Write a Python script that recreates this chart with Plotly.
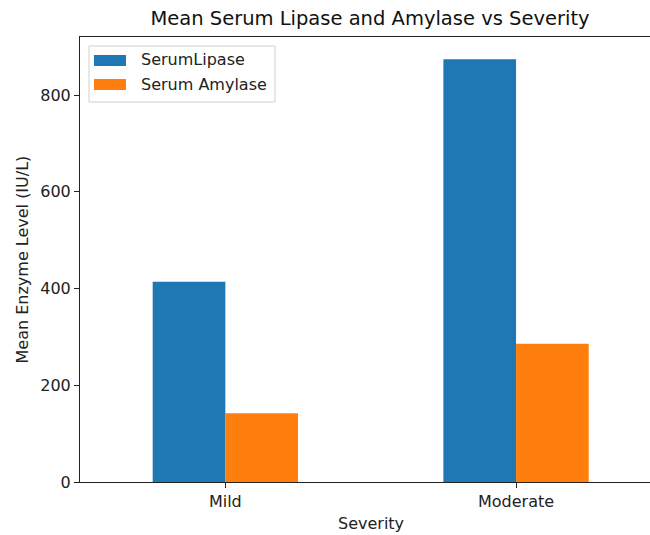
import plotly.graph_objects as go

categories = ["Mild", "Moderate"]
serum_lipase = [414, 874]
serum_amylase = [142, 286]
series_names = ["SerumLipase", "Serum Amylase"]
colors = ["#1f77b4", "#ff7f0e"]
y_ticks = [0, 200, 400, 600, 800]

W, H = 650, 535
L, R, T, B = 80, 0, 37, 53
PW, PH = W - L - R, H - T - B

def px_x(px):
    return (px - L) / PW

def px_y(py):
    return (H - B - py) / PH

FONT = "DejaVu Sans"
FS = 16

fig = go.Figure()
fig.add_trace(go.Bar(x=categories, y=serum_lipase, name=series_names[0],
                     marker=dict(color=colors[0], line=dict(width=0))))
fig.add_trace(go.Bar(x=categories, y=serum_amylase, name=series_names[1],
                     marker=dict(color=colors[1], line=dict(width=0))))

shapes = [
    dict(type="rect", xref="paper", yref="paper",
         x0=px_x(89), x1=px_x(275), y0=px_y(102), y1=px_y(46),
         line=dict(color="#d0d0d0", width=1), fillcolor="rgba(255,255,255,0.8)"),
    dict(type="rect", xref="paper", yref="paper",
         x0=px_x(94), x1=px_x(126), y0=px_y(66), y1=px_y(55),
         line=dict(width=0), fillcolor=colors[0]),
    dict(type="rect", xref="paper", yref="paper",
         x0=px_x(94), x1=px_x(126), y0=px_y(90), y1=px_y(79),
         line=dict(width=0), fillcolor=colors[1]),
]

annotations = [
    dict(text=series_names[0], xref="paper", yref="paper", x=px_x(139), y=px_y(60),
         xanchor="left", yanchor="middle", showarrow=False,
         font=dict(family=FONT, size=FS, color="#222")),
    dict(text=series_names[1], xref="paper", yref="paper", x=px_x(139), y=px_y(85),
         xanchor="left", yanchor="middle", showarrow=False,
         font=dict(family=FONT, size=FS, color="#222")),
    dict(text="Severity", xref="x", yref="paper", x=0.5, y=0, yshift=-41,
         xanchor="center", yanchor="middle", showarrow=False,
         font=dict(family=FONT, size=FS, color="#222")),
    dict(text="Mean Enzyme Level (IU/L)", xref="paper", yref="paper",
         x=px_x(22), y=0.5, textangle=-90, xanchor="center", yanchor="middle",
         showarrow=False, font=dict(family=FONT, size=FS, color="#222")),
]

fig.update_layout(
    width=W, height=H,
    margin=dict(l=L, r=R, t=T, b=B),
    paper_bgcolor="white", plot_bgcolor="white",
    barmode="group", bargap=0.5, bargroupgap=0,
    showlegend=False,
    title=dict(text="Mean Serum Lipase and Amylase vs Severity",
               x=370 / W, xref="container", xanchor="center",
               y=1 - 18 / H, yref="container", yanchor="middle",
               font=dict(family=FONT, size=19.5, color="#111")),
    xaxis=dict(range=[-0.5, (W - L) / 290.7 - 0.5], showline=True, mirror=True,
               linecolor="#222", linewidth=1, ticks="outside", ticklen=5,
               tickcolor="#222", showgrid=False, zeroline=False,
               tickfont=dict(family=FONT, size=FS, color="#222")),
    yaxis=dict(range=[0, 920], tickvals=y_ticks, showline=True, mirror=False,
               linecolor="#222", linewidth=1, ticks="outside", ticklen=5,
               tickcolor="#222", showgrid=False, zeroline=False,
               tickfont=dict(family=FONT, size=FS, color="#222")),
    shapes=shapes, annotations=annotations,
)

fig.write_html(
    "out.html",
    config={"displayModeBar": False},
    post_script=(
        "document.body.style.margin='0';document.body.style.padding='0';"
        "document.body.style.overflow='hidden';"
        "document.documentElement.style.overflow='hidden';"
    ),
)
